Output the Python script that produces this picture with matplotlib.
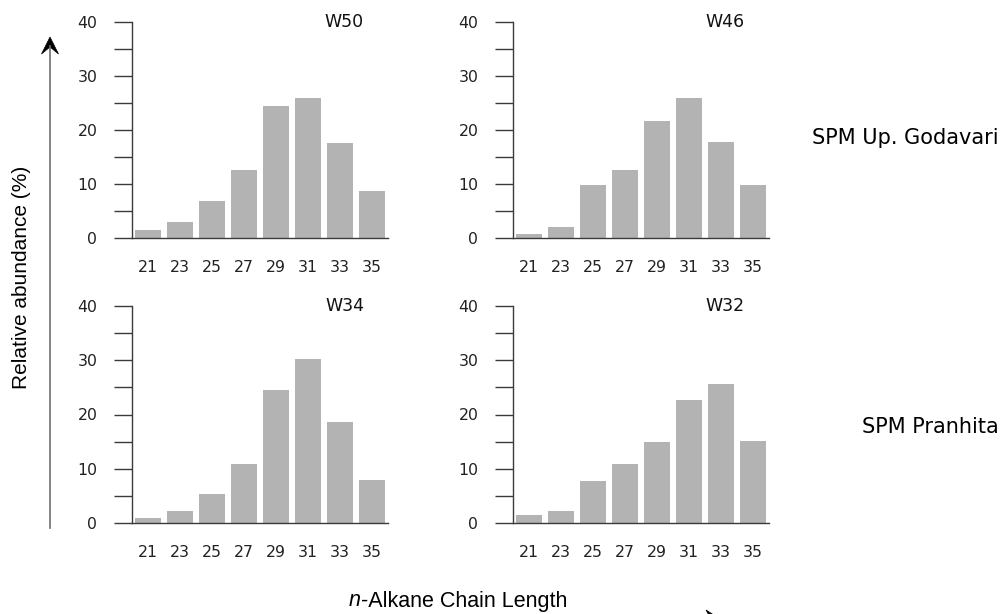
import matplotlib
matplotlib.use("Agg")
import matplotlib.pyplot as plt
from matplotlib.ticker import MultipleLocator
from matplotlib.patches import Polygon

chain_lengths = ["21", "23", "25", "27", "29", "31", "33", "35"]
w50 = [1.4, 2.9, 6.8, 12.5, 24.5, 26.0, 17.5, 8.7]
w46 = [0.7, 2.0, 9.8, 12.5, 21.6, 25.9, 17.7, 9.8]
w34 = [1.0, 2.2, 5.3, 10.8, 24.5, 30.2, 18.6, 7.9]
w32 = [1.4, 2.3, 7.7, 10.8, 14.9, 22.6, 25.6, 15.1]
panel_titles = ["W50", "W46", "W34", "W32"]
row_labels = ["SPM Up. Godavari", "SPM Pranhita"]
y_label = "Relative abundance (%)"
x_label_italic = "n"
x_label_rest = "-Alkane Chain Length"

plt.rcParams['font.family'] = ['DejaVu Sans']

W, H = 1002, 614
fig = plt.figure(figsize=(W / 100, H / 100), dpi=100)

def px_axes(left, top, right, bottom):
    return fig.add_axes([left / W, (H - bottom) / H, (right - left) / W, (bottom - top) / H])

def fx(x):
    return x / W

def fy(y):
    return (H - y) / H

positions = [(132, 22, 388, 238), (513, 22, 769, 238),
             (132, 306, 388, 523), (513, 306, 769, 523)]
series = [w50, w46, w34, w32]

axis_col = "#3a3a3a"
for (l, t, r, b), vals, title in zip(positions, series, panel_titles):
    ax = px_axes(l, t, r, b)
    xs = range(len(chain_lengths))
    ax.bar(xs, vals, width=0.8, color="#b3b3b3", zorder=2)
    ax.set_xlim(-0.5, 7.5)
    ax.set_ylim(0, 40)
    ax.set_xticks(list(xs))
    ax.set_xticklabels(chain_lengths)
    ax.yaxis.set_major_locator(MultipleLocator(10))
    ax.yaxis.set_minor_locator(MultipleLocator(5))
    for s in ["top", "right"]:
        ax.spines[s].set_visible(False)
    for s in ["left", "bottom"]:
        ax.spines[s].set_color(axis_col)
        ax.spines[s].set_linewidth(1.0)
    ax.spines["bottom"].set_zorder(3)
    ax.tick_params(axis="x", length=0, pad=16, labelsize=11.3, colors="#222222")
    ax.tick_params(axis="y", which="both", direction="out", length=13, width=1.0,
                   color=axis_col, pad=12)
    ax.tick_params(axis="y", which="major", labelsize=11.3, labelcolor="#222222")
    ax.text(0.83, 1.0, title, transform=ax.transAxes, ha="center", va="center",
            fontsize=12.5, color="#111111")

fig.text(fx(999), fy(138), row_labels[0], ha="right", va="center", fontsize=15)
fig.text(fx(999), fy(427), row_labels[1], ha="right", va="center", fontsize=15)

fig.text(fx(22), fy(277), y_label, rotation=90, ha="center", va="center",
         fontsize=15, family="Liberation Sans")

# x label: italic "n" followed by regular text, centred as a whole
renderer = fig.canvas.get_renderer()
t_it = fig.text(0, fy(601), x_label_italic, ha="left", va="center", fontsize=15.5,
                family="Liberation Sans", style="italic")
t_rest = fig.text(0, fy(601), x_label_rest, ha="left", va="center", fontsize=15.5,
                  family="Liberation Sans")
w_it = t_it.get_window_extent(renderer).width
w_rest = t_rest.get_window_extent(renderer).width
start = 458 - (w_it + w_rest) / 2
t_it.set_x(fx(start))
t_rest.set_x(fx(start + w_it))

# vertical arrow
fig.add_artist(plt.Line2D([fx(50), fx(50)], [fy(528), fy(46)],
                          transform=fig.transFigure, color="#707070", lw=1.2))
fig.add_artist(Polygon([(fx(50), fy(37)), (fx(58.5), fy(54)), (fx(50), fy(47)),
                        (fx(41.5), fy(54))], closed=True, transform=fig.transFigure,
                       facecolor="black", edgecolor="black", lw=0.5))

# horizontal arrow (mostly off canvas)
fig.add_artist(Polygon([(fx(720), fy(619)), (fx(706), fy(610)), (fx(711), fy(619)),
                        (fx(706), fy(628))], closed=True, transform=fig.transFigure,
                       facecolor="black", edgecolor="black", lw=0.5))

fig.savefig("out.png", dpi=100)
